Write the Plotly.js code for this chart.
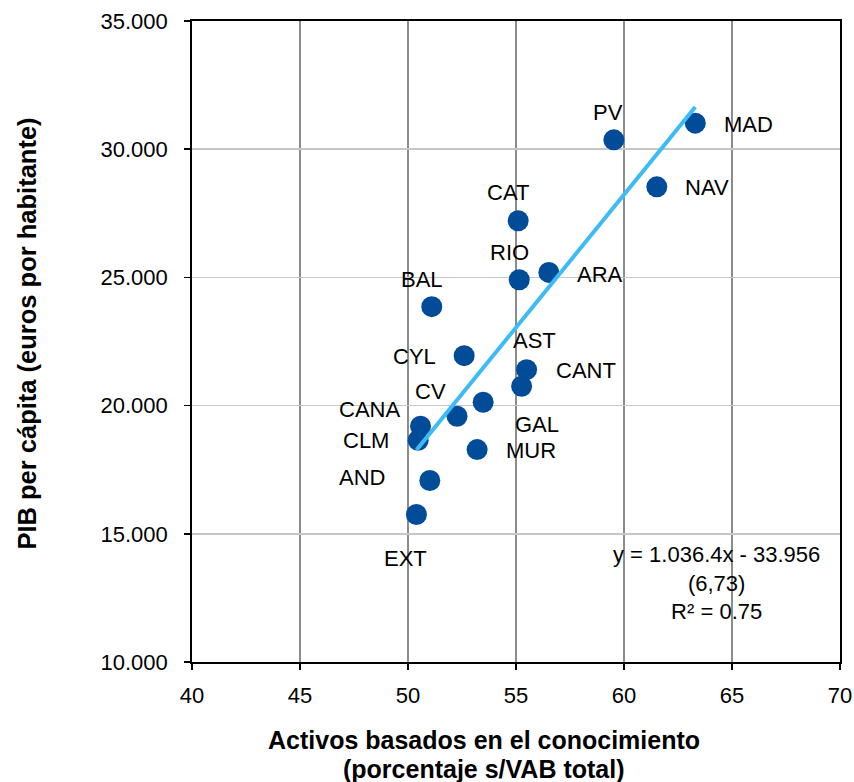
<!DOCTYPE html>
<html>
<head>
<meta charset="utf-8">
<script src="https://cdn.plot.ly/plotly-3.0.1.min.js"></script>
<style>
  body { margin: 0; background: #fff; }
  #chart { width: 854px; height: 782px; }
</style>
</head>
<body>
<div id="chart"></div>
<script>
// regiones y valores
const regions = ['PV', 'MAD', 'NAV', 'CAT', 'RIO', 'ARA', 'BAL', 'CYL', 'CANT', 'AST', 'GAL', 'CV', 'CANA', 'CLM', 'MUR', 'AND', 'EXT'];
const activos = [59.53, 63.30, 61.52, 55.10, 55.15, 56.52, 51.10, 52.60, 55.49, 55.26, 53.48, 52.27, 50.58, 50.47, 53.20, 51.01, 50.39];
const pib = [30364, 31014, 28533, 27208, 24910, 25194, 23858, 21949, 21403, 20753, 20129, 19584, 19194, 18649, 18286, 17079, 15754];

const xTicks = [40, 45, 50, 55, 60, 65, 70];
const yTicks = [10000, 15000, 20000, 25000, 30000, 35000];

// recta de regresion
const slope = 1036.4;
const intercept = -33956;
const eqText = 'y = 1.036.4x - 33.956<br>(6,73)<br>R² = 0.75';

// desplazamiento de cada etiqueta respecto a su punto (px, abajo positivo)
const labelOffsets = {
    'PV': [-6, -27], 'MAD': [53, 1], 'NAV': [50, 1], 'CAT': [-10, -28],
    'RIO': [-10, -27], 'ARA': [51, 2], 'BAL': [-10, -27], 'CYL': [-50, 1],
    'CANT': [59, 1], 'AST': [13, -46], 'GAL': [54, 22], 'CV': [-27, -25],
    'CANA': [-51, -17], 'CLM': [-52, 0], 'MUR': [54, 1], 'AND': [-68, -3],
    'EXT': [-11, 44]
};

const font = 'Liberation Sans, Arial, sans-serif';

const xMin = Math.min(...activos);
const xMax = Math.max(...activos);

const points = {
    x: activos,
    y: pib,
    type: 'scatter',
    mode: 'markers',
    marker: { size: 21, color: '#004C99' },
    hoverinfo: 'x+y',
    cliponaxis: false
};

// la recta va encima de los puntos
const trend = {
    x: [xMin, xMax],
    y: [slope * xMin + intercept, slope * xMax + intercept],
    type: 'scatter',
    mode: 'lines',
    line: { color: '#3DBBF7', width: 4 },
    hoverinfo: 'skip'
};

let annotations = regions.map(function (r, i) {
    const off = labelOffsets[r];
    return {
        x: activos[i], y: pib[i], xref: 'x', yref: 'y',
        text: r, showarrow: false,
        xanchor: 'center', yanchor: 'middle',
        xshift: off[0], yshift: -off[1],
        font: { family: font, size: 22, color: '#000' }
    };
});

function paperText(x, y, text, size, extra) {
    return Object.assign({
        x: x, y: y, xref: 'paper', yref: 'paper',
        text: text, showarrow: false, align: 'center',
        xanchor: 'center', yanchor: 'middle',
        font: { family: font, size: size, color: '#000' }
    }, extra || {});
}

annotations.push(paperText(0.810, 0.1226, eqText, 22));
annotations.push(paperText(0.450, -0.1220, '<b>Activos basados en el conocimiento</b>', 25));
annotations.push(paperText(0.450, -0.1673, '<b>(porcentaje s/VAB total)</b>', 25));
annotations.push(paperText(-0.255, 0.512, '<b>PIB per cápita (euros por habitante)</b>', 25.5, { textangle: -90 }));

const layout = {
    width: 854,
    height: 782,
    margin: { l: 192, r: 14, t: 21, b: 120 },
    paper_bgcolor: '#fff',
    plot_bgcolor: '#fff',
    showlegend: false,
    separators: ',.',
    font: { family: font, size: 22, color: '#000' },
    xaxis: {
        range: [40, 70],
        tickvals: xTicks,
        ticks: 'outside', ticklen: 6, tickwidth: 1.5, tickcolor: '#000',
        ticklabelstandoff: 7,
        showline: true, linecolor: '#000', linewidth: 1.8, mirror: true,
        showgrid: true, gridcolor: '#8C8C8C', gridwidth: 1.5,
        zeroline: false,
        tickfont: { family: font, size: 22, color: '#000' }
    },
    yaxis: {
        range: [10000, 35000],
        tickvals: yTicks,
        tickformat: ',d',
        ticks: 'outside', ticklen: 6, tickwidth: 1.5, tickcolor: '#000',
        ticklabelstandoff: 12,
        showline: true, linecolor: '#000', linewidth: 1.8, mirror: true,
        showgrid: true, gridcolor: '#C6C6C6', gridwidth: 1.5,
        zeroline: false,
        tickfont: { family: font, size: 22, color: '#000' }
    },
    annotations: annotations
};

Plotly.newPlot('chart', [points, trend], layout, { displayModeBar: false, staticPlot: true });
</script>
</body>
</html>
